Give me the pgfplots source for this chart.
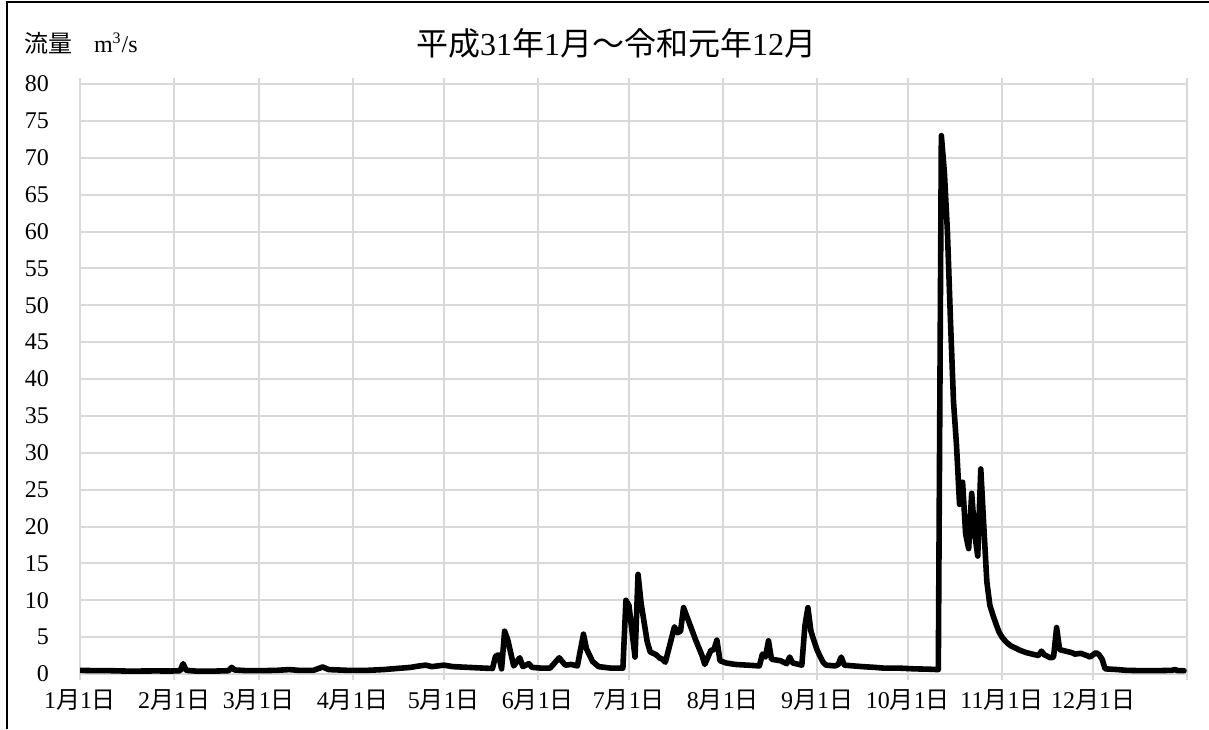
\documentclass[border=0pt]{standalone}
\usepackage{fontspec}
\setmainfont{Liberation Serif}
\newfontfamily\jp{Noto Sans CJK JP}
\usepackage{pgfplots}
\pgfplotsset{compat=1.18}
\definecolor{gridgray}{HTML}{D9D9D9}
\newcommand{\md}[1]{#1{\jp 月}1{\jp 日}}
\begin{document}
\begin{tikzpicture}[x=1pt,y=1pt]
\useasboundingbox (0pt,0pt) rectangle (604.5pt,364.5pt);
\draw[line width=1pt] (3.5pt,0pt) -- (3.5pt,363.5pt) -- (604.5pt,363.5pt);
\node[anchor=west,font=\fontsize{12}{14}\selectfont] at (8.5pt,343pt) {{\jp 流量}\hspace{11pt}m\textsuperscript{3}/s};
\node[font=\fontsize{16}{18}\selectfont] at (308pt,343pt) {{\jp 平成}31{\jp 年}1{\jp 月～令和元年}12{\jp 月}};
\begin{axis}[at={(40pt,27.5pt)}, anchor=south west, scale only axis,
  width=553.5pt, height=295pt,
  xmin=0, xmax=365, ymin=0, ymax=80,
  xtick={0,31,59,90,120,151,181,212,243,273,304,334,365},
  xticklabels={\md{1},\md{2},\md{3},\md{4},\md{5},\md{6},\md{7},\md{8},\md{9},\md{10},\md{11},\md{12},{}},
  ytick={0,5,...,80},
  grid=major,
  major grid style={draw=gridgray, line width=1pt},
  axis line style={draw=none},
  tick align=outside, major tick length=3pt,
  xtick style={draw=gridgray, line width=1pt},
  ytick style={draw=none},
  ticklabel style={font=\fontsize{12}{14}\selectfont},
  yticklabel style={xshift=-9pt},
  xticklabel style={yshift=-1.5pt},
  /pgf/number format/assume math mode=true,
]
\addplot[black, line width=2.8pt, line join=round, line cap=round] coordinates {
(0,0.5)(5,0.45)(10,0.45)(15,0.4)(20,0.4)(25,0.42)(30,0.4)(33,0.45)(34,1.4)(35,0.5)
(38,0.4)(45,0.4)(49,0.45)(50,0.9)(51,0.55)(55,0.45)(60,0.45)(65,0.5)(69,0.6)(72,0.5)
(77,0.5)(80,0.95)(82,0.6)(88,0.5)(95,0.5)(100,0.6)(103,0.7)(106,0.8)(109,0.9)(112,1.1)
(114,1.2)(116,1.0)(118,1.1)(120,1.2)(123,1.0)(128,0.9)(133,0.8)(136,0.75)(137,2.4)(138,2.6)
(139,0.7)(140,5.8)(141,4.7)(143,1.1)(145,2.2)(146,1.0)(148,1.4)(149,0.9)(152,0.8)(155,0.8)
(158,2.2)(160,1.2)(162,1.3)(164,1.1)(166,5.4)(167,3.4)(169,1.7)(171,1.0)(175,0.8)(179,0.8)
(180,10.0)(181,9.3)(183,2.3)(184,13.5)(185,9.6)(187,4.4)(188,3.0)(190,2.6)(191,2.2)(192,2.0)
(193,1.6)(196,6.4)(197,5.6)(198,5.8)(199,9.0)(201,6.8)(203,4.6)(205,2.6)(206,1.3)(208,3.2)
(209,3.3)(210,4.6)(211,1.8)(213,1.5)(216,1.3)(220,1.2)(224,1.1)(225,2.7)(226,2.3)(227,4.5)
(228,2.0)(231,1.8)(233,1.4)(234,2.3)(235,1.5)(238,1.2)(239,6.5)(240,9.0)(241,5.8)(242,4.5)
(243,3.3)(244,2.4)(245,1.6)(246,1.2)(249,1.1)(250,1.3)(251,2.3)(252,1.2)(255,1.1)(258,1.0)
(262,0.9)(265,0.8)(270,0.8)(275,0.7)(280,0.65)(283,0.6)(284,73)(285,68)(286,60)(287,48)
(288,37)(289,31)(290,23)(291,26)(292,19)(293,17)(294,24.5)(295,19)(296,16)(297,27.8)
(298,20)(299,12.5)(300,9.3)(301,8)(302,6.8)(303,5.7)(304,5)(305,4.5)(306,4.1)(307,3.8)
(308,3.6)(310,3.2)(312,2.9)(314,2.7)(316,2.5)(317,3.1)(318,2.6)(319,2.4)(320,2.2)(321,2.3)
(322,6.3)(323,3.3)(325,3.1)(327,2.9)(328,2.7)(330,2.8)(332,2.5)(333,2.3)(334,2.6)(335,2.9)
(336,2.6)(337,2.0)(338,0.7)(342,0.6)(345,0.5)(350,0.45)(355,0.45)(360,0.5)(361,0.6)(362,0.45)
(364,0.45)
};
\end{axis}
\end{tikzpicture}
\end{document}
